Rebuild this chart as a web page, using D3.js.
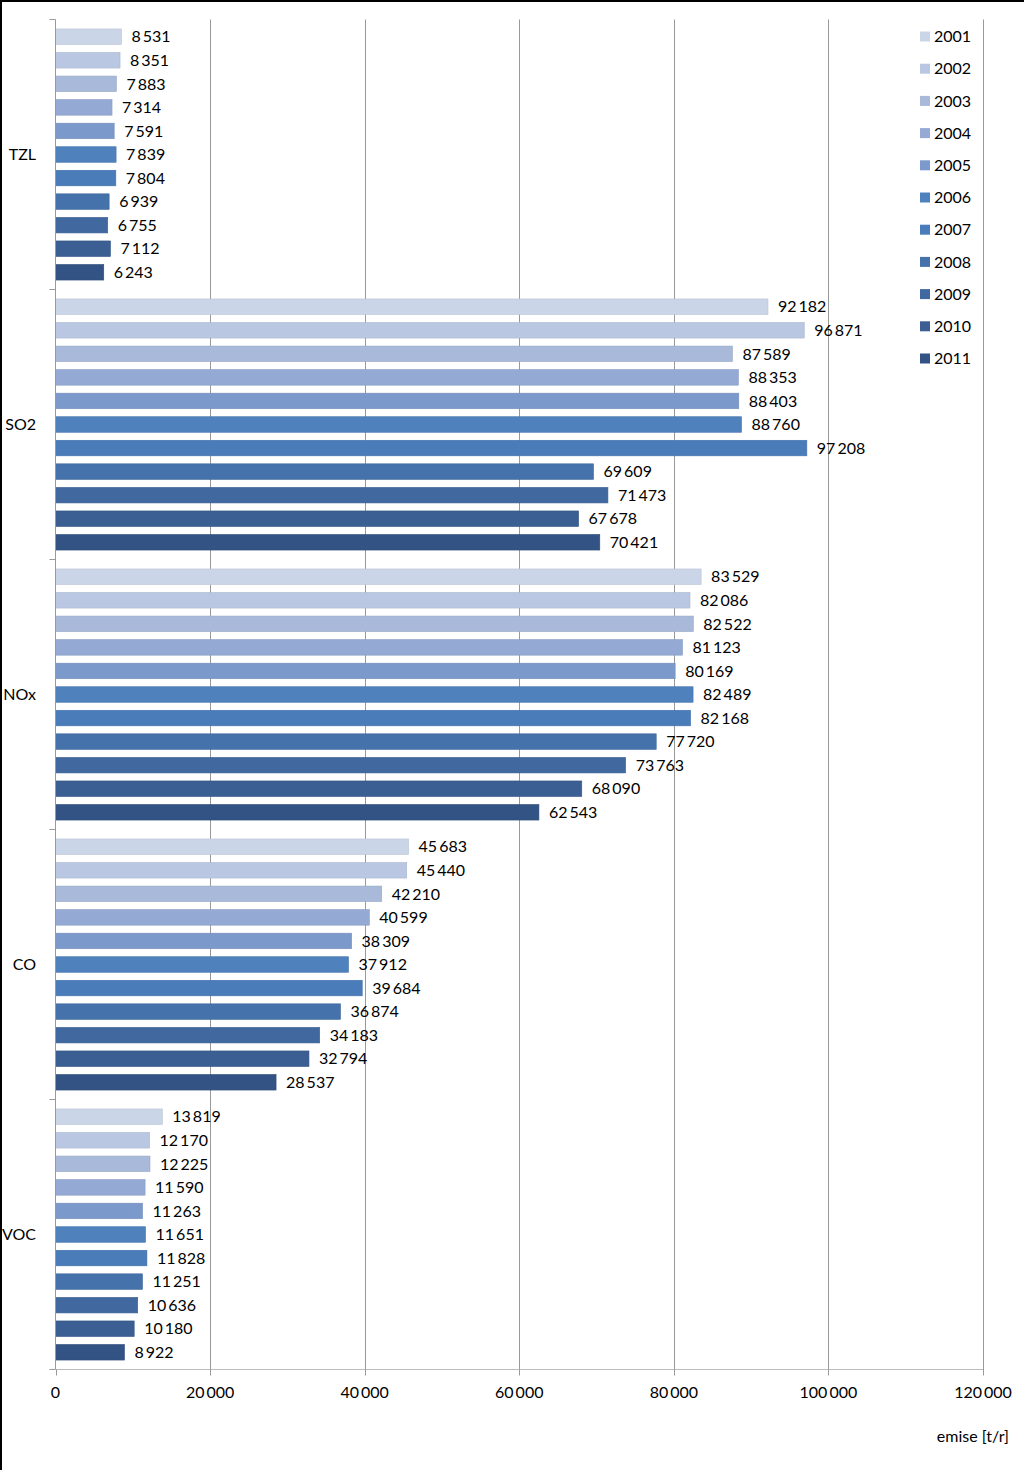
<!DOCTYPE html>
<html><head><meta charset="utf-8">
<script src="https://cdn.jsdelivr.net/npm/d3@7"></script>
<style>
html,body{margin:0;padding:0;background:#fff;}
svg{display:block;font-family:Lato,"Open Sans",sans-serif;}
</style></head>
<body>
<svg id="chart" width="1024" height="1470"></svg>
<script>
const categories = ["TZL","SO2","NOx","CO","VOC"];
const years = ["2001","2002","2003","2004","2005","2006","2007","2008","2009","2010","2011"];
const TZL = [8531,8351,7883,7314,7591,7839,7804,6939,6755,7112,6243];
const SO2 = [92182,96871,87589,88353,88403,88760,97208,69609,71473,67678,70421];
const NOx = [83529,82086,82522,81123,80169,82489,82168,77720,73763,68090,62543];
const CO  = [45683,45440,42210,40599,38309,37912,39684,36874,34183,32794,28537];
const VOC = [13819,12170,12225,11590,11263,11651,11828,11251,10636,10180,8922];
const xTicks = [0,20000,40000,60000,80000,100000,120000];
const colors = ["#CBD5E8","#B9C7E2","#A8B9DA","#94AAD4","#7B9ACB","#4F81BD","#4A7CBA","#4572AB","#41699F","#3B5F92","#335384"];
const axisTitle = "emise [t/r]";

(function(){
const series = {TZL, SO2, NOx, CO, VOC};
const svg = d3.select("#chart");
const pLeft = 55.5, pRight = 983, pTop = 19.5, pBottom = 1369.5;
const fs = 16;

const x = d3.scaleLinear().domain([0,120000]).range([pLeft,pRight]);
const y0 = d3.scaleBand().domain(categories).range([pTop,pBottom]).paddingInner(0.07).paddingOuter(0.035);
const y1 = d3.scaleBand().domain(years).range([0,y0.bandwidth()]).paddingInner(0.34).paddingOuter(0);
const color = d3.scaleOrdinal().domain(years).range(colors);
const loc = d3.formatLocale({decimal:",",thousands:"\u2009",grouping:[3],currency:["",""]});
const fmt = loc.format(",d");

// border (top and left)
svg.append("line").attr("x1",1).attr("x2",1).attr("y1",0).attr("y2",1470).attr("stroke","#000").attr("stroke-width",2);
svg.append("line").attr("x1",0).attr("x2",1024).attr("y1",1).attr("y2",1).attr("stroke","#000").attr("stroke-width",2);

// gridlines
svg.append("g").selectAll("line").data(xTicks.slice(1)).join("line")
  .attr("x1",d=>Math.round(x(d))+0.5).attr("x2",d=>Math.round(x(d))+0.5)
  .attr("y1",pTop).attr("y2",pBottom+5)
  .attr("stroke","#999").attr("stroke-width",1);

// bars
const groups = svg.append("g").selectAll("g").data(categories).join("g")
  .attr("transform",c=>`translate(0,${y0(c)})`);
groups.selectAll("rect").data(c=>series[c].map((v,i)=>({year:years[i],v}))).join("rect")
  .attr("x",x(0)).attr("y",d=>y1(d.year))
  .attr("width",d=>x(d.v)-x(0)).attr("height",y1.bandwidth())
  .attr("fill",d=>color(d.year))
  .attr("stroke",d=>d3.color(color(d.year)).darker(0.25)).attr("stroke-width",0.6);
groups.selectAll("text").data(c=>series[c].map((v,i)=>({year:years[i],v}))).join("text")
  .attr("x",d=>x(d.v)+10).attr("y",d=>y1(d.year)+y1.bandwidth()/2)
  .attr("dy","0.36em").attr("font-size",fs).attr("fill","#000")
  .text(d=>fmt(d.v));

// left axis
svg.append("line").attr("x1",pLeft).attr("x2",pLeft).attr("y1",pTop).attr("y2",pBottom).attr("stroke","#999");
const boundaries = categories.map(c=>y0(c)-y0.step()*y0.paddingInner()/2).concat([pBottom]);
svg.append("g").selectAll("line").data(boundaries).join("line")
  .attr("x1",pLeft-6).attr("x2",pLeft).attr("y1",d=>d).attr("y2",d=>d).attr("stroke","#999");
svg.append("g").selectAll("text").data(categories).join("text")
  .attr("x",36).attr("y",c=>y0(c)+y0.bandwidth()/2).attr("dy","0.36em")
  .attr("text-anchor","end").attr("font-size",fs).text(c=>c);

// bottom axis
svg.append("line").attr("x1",pLeft).attr("x2",pRight).attr("y1",pBottom).attr("y2",pBottom).attr("stroke","#bbb");
svg.append("g").selectAll("line").data(xTicks).join("line")
  .attr("x1",d=>Math.round(x(d))+0.5).attr("x2",d=>Math.round(x(d))+0.5)
  .attr("y1",pBottom).attr("y2",pBottom+6).attr("stroke","#999");
svg.append("g").selectAll("text").data(xTicks).join("text")
  .attr("x",d=>x(d)).attr("y",1392).attr("dy","0.36em").attr("text-anchor","middle")
  .attr("font-size",fs).text(d=>fmt(d));
svg.append("text").attr("x",1009).attr("y",1436).attr("dy","0.36em").attr("text-anchor","end")
  .attr("font-size",fs).text(axisTitle);

// legend
const lg = svg.append("g").selectAll("g").data(years).join("g")
  .attr("transform",(d,i)=>`translate(920,${36.5+i*32.2})`);
lg.append("rect").attr("x",0).attr("y",-5).attr("width",10).attr("height",10).attr("fill",d=>color(d));
lg.append("text").attr("x",14).attr("dy","0.36em").attr("font-size",fs).text(d=>d);
})();
</script>
</body></html>
